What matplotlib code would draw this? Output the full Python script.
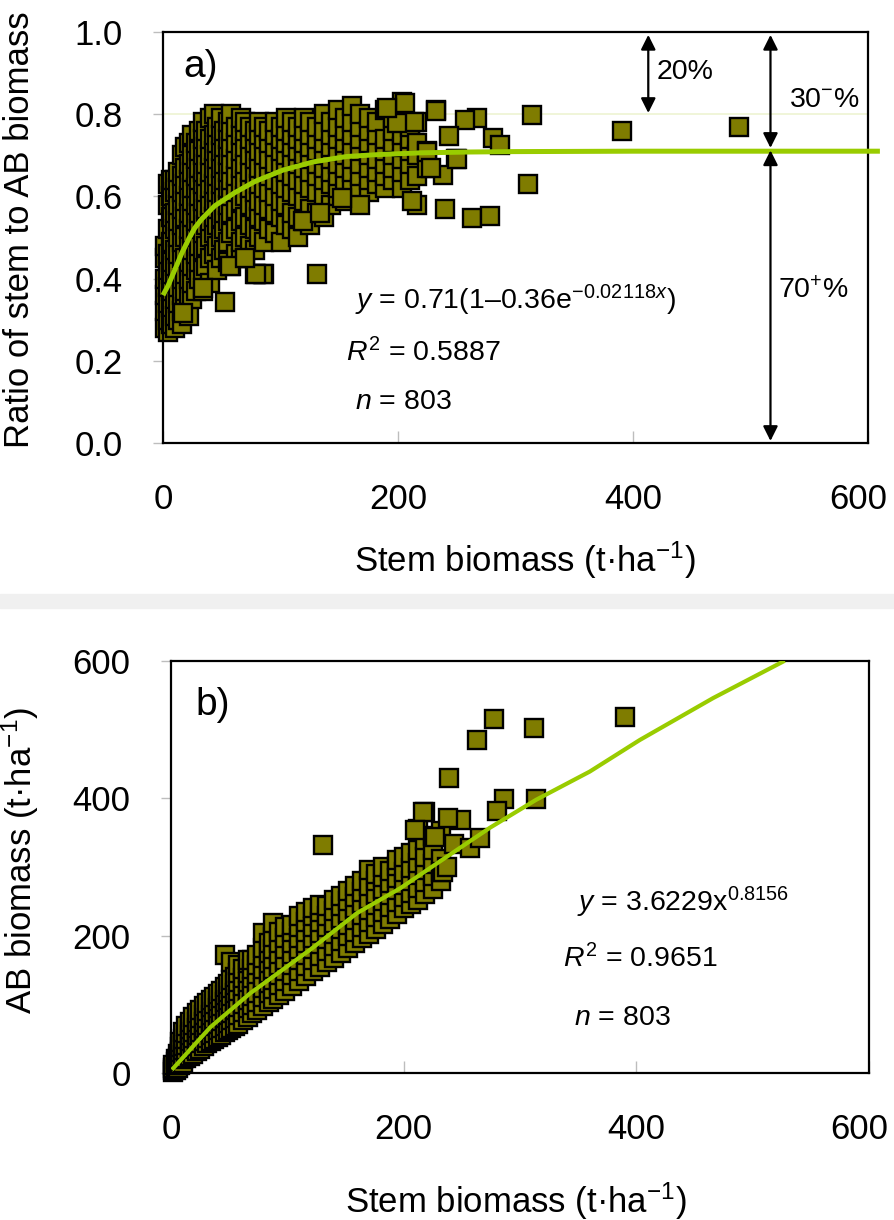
import matplotlib
matplotlib.use('Agg')
import matplotlib.pyplot as plt
from matplotlib.patches import Rectangle
from matplotlib.transforms import ScaledTranslation

plt.rcParams['font.family'] = ['Liberation Sans', 'DejaVu Sans']
plt.rcParams['mathtext.fontset'] = 'custom'
plt.rcParams['mathtext.rm'] = 'Liberation Sans'
plt.rcParams['mathtext.it'] = 'Liberation Sans:italic'
plt.rcParams['mathtext.bf'] = 'Liberation Sans:bold'

# ---- panel a: ratio of stem to AB biomass vs stem biomass (read per column) ----
stem_cols_a = [2, 4, 7, 10, 13, 16, 19, 22, 25, 28, 31, 34, 37, 40, 43, 46, 49, 52,
               55, 58, 62, 66, 70, 74, 78, 82, 86, 90, 95, 100, 105, 110, 115, 120,
               125, 131, 137, 143, 149, 155, 161, 168, 175, 182, 189, 196, 203, 210,
               216, 225, 232]
ratio_cols_a = [
    [0.28, 0.32, 0.36, 0.40, 0.45, 0.48],
    [0.27, 0.30, 0.34, 0.38, 0.42, 0.46, 0.52, 0.58, 0.63],
    [0.29, 0.33, 0.37, 0.41, 0.44, 0.49, 0.55, 0.60, 0.64],
    [0.28, 0.31, 0.35, 0.39, 0.43, 0.47, 0.52, 0.56, 0.61, 0.64],
    [0.30, 0.34, 0.38, 0.42, 0.46, 0.50, 0.54, 0.58, 0.62, 0.66],
    [0.29, 0.32, 0.36, 0.40, 0.45, 0.49, 0.53, 0.57, 0.61, 0.65, 0.70],
    [0.33, 0.37, 0.41, 0.45, 0.50, 0.55, 0.59, 0.63, 0.67, 0.72],
    [0.31, 0.36, 0.40, 0.44, 0.48, 0.52, 0.56, 0.60, 0.64, 0.68, 0.73],
    [0.35, 0.39, 0.43, 0.47, 0.51, 0.55, 0.59, 0.62, 0.66, 0.70, 0.75],
    [0.37, 0.42, 0.46, 0.50, 0.54, 0.58, 0.62, 0.65, 0.69, 0.73],
    [0.40, 0.44, 0.48, 0.52, 0.56, 0.60, 0.64, 0.67, 0.71, 0.76],
    [0.37, 0.42, 0.47, 0.51, 0.55, 0.59, 0.63, 0.66, 0.70, 0.74, 0.78],
    [0.43, 0.48, 0.53, 0.57, 0.61, 0.65, 0.68, 0.72, 0.76],
    [0.39, 0.45, 0.50, 0.54, 0.58, 0.62, 0.66, 0.70, 0.74, 0.79],
    [0.46, 0.51, 0.55, 0.59, 0.63, 0.67, 0.71, 0.75, 0.80],
    [0.42, 0.48, 0.53, 0.57, 0.61, 0.65, 0.69, 0.73, 0.77],
    [0.45, 0.50, 0.55, 0.59, 0.63, 0.67, 0.71, 0.75, 0.79],
    [0.47, 0.52, 0.56, 0.60, 0.64, 0.68, 0.72, 0.76],
    [0.44, 0.49, 0.54, 0.58, 0.62, 0.66, 0.70, 0.74, 0.78],
    [0.43, 0.51, 0.56, 0.60, 0.64, 0.68, 0.72, 0.76, 0.80],
    [0.46, 0.52, 0.57, 0.61, 0.65, 0.69, 0.73, 0.77],
    [0.45, 0.49, 0.54, 0.59, 0.63, 0.67, 0.71, 0.75, 0.79],
    [0.45, 0.50, 0.55, 0.60, 0.64, 0.68, 0.72, 0.76, 0.78],
    [0.48, 0.53, 0.58, 0.62, 0.66, 0.70, 0.74, 0.77],
    [0.41, 0.47, 0.52, 0.57, 0.61, 0.65, 0.69, 0.73, 0.76],
    [0.50, 0.55, 0.59, 0.63, 0.67, 0.71, 0.75, 0.78],
    [0.41, 0.49, 0.54, 0.58, 0.62, 0.66, 0.70, 0.74, 0.77],
    [0.52, 0.57, 0.61, 0.65, 0.69, 0.73, 0.76],
    [0.51, 0.56, 0.60, 0.64, 0.68, 0.72, 0.75, 0.78],
    [0.49, 0.55, 0.59, 0.63, 0.67, 0.71, 0.74, 0.77],
    [0.53, 0.58, 0.62, 0.66, 0.70, 0.73, 0.76, 0.79],
    [0.52, 0.56, 0.61, 0.65, 0.69, 0.72, 0.75, 0.78],
    [0.50, 0.55, 0.60, 0.64, 0.68, 0.71, 0.74, 0.77],
    [0.54, 0.59, 0.63, 0.67, 0.70, 0.73, 0.76, 0.79],
    [0.53, 0.57, 0.62, 0.66, 0.69, 0.72, 0.75, 0.78],
    [0.56, 0.61, 0.65, 0.68, 0.71, 0.74, 0.77],
    [0.55, 0.60, 0.64, 0.67, 0.70, 0.73, 0.76, 0.80],
    [0.58, 0.63, 0.66, 0.69, 0.72, 0.75, 0.78],
    [0.60, 0.62, 0.65, 0.68, 0.71, 0.74, 0.77, 0.81],
    [0.59, 0.64, 0.67, 0.70, 0.73, 0.76, 0.79],
    [0.63, 0.66, 0.69, 0.72, 0.75, 0.78, 0.82],
    [0.62, 0.65, 0.68, 0.71, 0.74, 0.77, 0.80],
    [0.61, 0.64, 0.67, 0.70, 0.73, 0.76, 0.79],
    [0.63, 0.66, 0.69, 0.72, 0.75, 0.78],
    [0.62, 0.65, 0.68, 0.71, 0.74, 0.81],
    [0.64, 0.67, 0.70, 0.73, 0.76, 0.79],
    [0.62, 0.66, 0.69, 0.72, 0.75, 0.78, 0.83],
    [0.64, 0.68, 0.71, 0.74, 0.77],
    [0.65, 0.70, 0.73, 0.78],
    [0.67, 0.71],
    [0.81],
]
# scattered points read one by one
extra_stem_a = [391, 490, 314, 311, 267, 257, 243, 281, 287, 249, 238, 240, 263, 278,
                232, 214, 225, 250, 228, 216, 131, 168, 152, 212, 206, 199, 191, 119,
                134, 53, 85, 79, 57, 70, 34, 17]
extra_ratio_a = [0.76, 0.77, 0.797, 0.63, 0.79, 0.786, 0.747, 0.742, 0.725, 0.69, 0.652,
                 0.57, 0.547, 0.552, 0.808, 0.78, 0.708, 0.69, 0.67, 0.58, 0.41, 0.58,
                 0.596, 0.59, 0.827, 0.778, 0.815, 0.54, 0.56, 0.343, 0.41, 0.41, 0.43,
                 0.45, 0.377, 0.316]
# fitted curve y = 0.71(1-0.36e^-0.02118x), as drawn
curve_stem_a = [1, 4.5, 10, 16, 22, 27, 33, 44, 61, 78, 102, 128, 156, 185, 219, 260,
                300, 400, 500, 608]
curve_ratio_a = [0.365, 0.384, 0.421, 0.462, 0.497, 0.523, 0.545, 0.577, 0.609, 0.636,
                 0.664, 0.684, 0.697, 0.702, 0.706, 0.708, 0.709, 0.71, 0.71, 0.71]

# ---- panel b: AB biomass vs stem biomass ----
stem_cols_b = [2, 4, 6, 8, 10, 13, 16, 19, 22, 25, 28, 31, 34, 37, 40, 43, 46, 49, 52,
               55, 58, 62, 66, 70, 74, 79, 84, 88, 93, 98, 104, 110, 116, 122, 128, 134,
               140, 146, 152, 158, 164, 170, 176, 182, 188, 194, 200, 206, 212, 218,
               225, 232]
ab_cols_b = [
    [2, 5, 8, 12],
    [4, 8, 12, 16, 20],
    [8, 12, 17, 22, 28],
    [12, 17, 23, 30, 38, 45],
    [15, 20, 26, 33, 40, 50, 60],
    [22, 28, 34, 41, 49, 58, 68],
    [25, 31, 38, 46, 55, 64, 74],
    [28, 35, 43, 51, 60, 70, 82],
    [32, 39, 47, 56, 65, 75, 87],
    [35, 43, 51, 60, 70, 80, 92],
    [39, 47, 56, 65, 75, 85, 97],
    [43, 51, 60, 70, 80, 91, 102],
    [46, 55, 64, 74, 85, 96, 106],
    [49, 58, 68, 78, 89, 100, 110],
    [53, 62, 72, 83, 94, 105, 115],
    [56, 66, 76, 87, 98, 109, 120],
    [59, 69, 80, 91, 103, 114, 125, 172],
    [63, 73, 84, 95, 107, 118, 130],
    [66, 77, 88, 100, 112, 124, 136, 162],
    [69, 80, 92, 104, 116, 128, 140],
    [72, 84, 96, 108, 120, 132, 145, 158],
    [77, 89, 101, 113, 126, 139, 152],
    [82, 94, 107, 120, 133, 146, 160, 164],
    [87, 99, 112, 125, 138, 151, 165],
    [92, 104, 117, 130, 144, 158, 172],
    [97, 110, 124, 138, 152, 167, 182, 204],
    [103, 117, 131, 145, 160, 175, 190],
    [108, 122, 136, 151, 166, 181, 198, 218],
    [114, 128, 143, 158, 173, 189, 205],
    [120, 134, 149, 165, 181, 197, 212],
    [127, 142, 157, 173, 189, 205, 215],
    [134, 149, 165, 181, 197, 213, 228],
    [141, 156, 172, 189, 205, 220, 235],
    [148, 164, 180, 197, 213, 228, 240],
    [155, 171, 188, 204, 220, 235, 245],
    [162, 178, 195, 212, 228, 243],
    [168, 185, 202, 219, 236, 252],
    [175, 192, 209, 226, 243, 258],
    [182, 199, 216, 233, 250, 265],
    [189, 206, 223, 240, 257, 272],
    [196, 213, 230, 247, 264, 280],
    [203, 220, 237, 254, 272, 296],
    [210, 227, 244, 261, 279, 290],
    [217, 234, 251, 268, 286, 300],
    [225, 242, 259, 277, 294],
    [232, 249, 266, 284, 302, 310],
    [240, 256, 274, 292, 315],
    [246, 262, 280, 298, 320],
    [252, 270, 288, 306, 325, 355],
    [260, 278, 296, 314, 340, 380],
    [268, 287, 305, 325, 345],
    [280, 293, 312, 352],
]
extra_stem_b = [131, 390, 278, 263, 312, 239, 286, 280, 314, 249, 238, 243, 257, 266,
                234, 217, 210, 227, 237]
extra_ab_b = [332, 518, 515, 485, 502, 429, 399, 382, 399, 368, 372, 334, 327, 342,
              293, 380, 354, 344, 300]
# fitted curve y = 3.6229x^0.8156, as drawn
curve_stem_b = [2, 34, 68, 120, 160, 197, 231, 274, 314, 360, 403, 466, 526]
curve_ab_b = [7, 67, 116, 180, 233, 269, 308, 357, 398, 439, 485, 546, 599]

stem_a = [x for x, ys in zip(stem_cols_a, ratio_cols_a) for _ in ys] + extra_stem_a
ratio_a = [y for ys in ratio_cols_a for y in ys] + extra_ratio_a
stem_b = [x for x, ys in zip(stem_cols_b, ab_cols_b) for _ in ys] + extra_stem_b
ab_b = [y for ys in ab_cols_b for y in ys] + extra_ab_b

olive = '#7f7c00'
green = '#99cc00'
tick_grey = '#bdbdbd'

fig = plt.figure(figsize=(8.94, 12.2), dpi=100)
# light separator band between the panels
fig.patches.append(Rectangle((0, 1 - 608 / 1220), 1, 14 / 1220, transform=fig.transFigure,
                             color='#f0f0f0', zorder=0))

ax1 = fig.add_axes([163 / 894, 1 - 443 / 1220, 705 / 894, 411 / 1220])
ax2 = fig.add_axes([171 / 894, 1 - 1073 / 1220, 698 / 894, 412 / 1220])


def style(ax):
    for s in ax.spines.values():
        s.set_linewidth(1.6)
        s.set_color('black')
    ax.tick_params(axis='y', direction='out', length=7, width=1, color=tick_grey,
                   pad=22, labelsize=25)
    ax.tick_params(axis='x', direction='in', length=8.5, width=1, color=tick_grey,
                   pad=29, labelsize=25)


def nudge_last_xlabel(ax):
    # keep the right-most "600" inside the picture
    lab = ax.get_xticklabels()[-1]
    lab.set_transform(lab.get_transform() + ScaledTranslation(-7 / 72, 0, fig.dpi_scale_trans))


# panel a
ax1.axhline(0.8, color='#eef3d2', lw=1.2, zorder=1)
ax1.plot(stem_a, ratio_a, ls='none', marker='s', ms=12.5, mfc=olive, mec='black',
         mew=1.7, clip_on=False, zorder=2)
ax1.plot(curve_stem_a, curve_ratio_a, color=green, lw=3.6, clip_on=False, zorder=3,
         solid_joinstyle='round')
ax1.set_xlim(0, 600)
ax1.set_ylim(0, 1.0)
ax1.set_xticks([0, 200, 400, 600])
ax1.set_yticks([0, 0.2, 0.4, 0.6, 0.8, 1.0])
ax1.set_yticklabels(['0.0', '0.2', '0.4', '0.6', '0.8', '1.0'])
style(ax1)
nudge_last_xlabel(ax1)
ax1.set_xlabel('Stem biomass (t·ha$^{-1}$)', fontsize=25)
ax1.xaxis.set_label_coords(0.513, -0.236)
ax1.set_ylabel('Ratio of stem to AB biomass', fontsize=25, va='center')
ax1.yaxis.set_label_coords(-0.203, 0.52)
ax1.text(17, 0.915, 'a)', fontsize=28, va='center', ha='left')

arrow = dict(arrowstyle='<|-|>', color='black', lw=1.6, mutation_scale=22,
             shrinkA=0, shrinkB=0)
ax1.annotate('', xy=(413, 0.803), xytext=(413, 0.993), arrowprops=arrow)
ax1.annotate('', xy=(517, 0.718), xytext=(517, 0.993), arrowprops=arrow)
ax1.annotate('', xy=(517, 0.005), xytext=(517, 0.712), arrowprops=arrow)
ax1.text(420, 0.903, '20%', fontsize=20.5, va='center', ha='left')
ax1.text(533, 0.835, r'$\mathrm{30}^{-}$%', fontsize=20.5, va='center', ha='left')
ax1.text(523, 0.372, r'$\mathrm{70}^{+}$%', fontsize=20.5, va='center', ha='left')

ax1.text(163, 0.348, r'$\mathit{y}$ = 0.71(1–0.36e$^{-0.02118\mathit{x}}$)',
         fontsize=20.5, va='center', ha='left')
ax1.text(156, 0.219, r'$\mathit{R}^{2}$ = 0.5887', fontsize=20.5, va='center', ha='left')
ax1.text(163, 0.10, r'$\mathit{n}$ = 803', fontsize=20.5, va='center', ha='left')

# panel b
ax2.plot(stem_b, ab_b, ls='none', marker='s', ms=12.5, mfc=olive, mec='black',
         mew=1.7, clip_on=False, zorder=2)
ax2.plot(curve_stem_b, curve_ab_b, color=green, lw=3.0, zorder=3,
         solid_joinstyle='round')
ax2.set_xlim(0, 600)
ax2.set_ylim(0, 600)
ax2.set_xticks([0, 200, 400, 600])
ax2.set_yticks([0, 200, 400, 600])
style(ax2)
nudge_last_xlabel(ax2)
ax2.set_xlabel('Stem biomass (t·ha$^{-1}$)', fontsize=25)
ax2.xaxis.set_label_coords(0.494, -0.26)
ax2.set_ylabel('AB biomass (t·ha$^{-1}$)', fontsize=25, va='center')
ax2.yaxis.set_label_coords(-0.216, 0.515)
ax2.text(21, 536, 'b)', fontsize=28, va='center', ha='left')

ax2.text(349, 248, r'$\mathit{y}$ = 3.6229x$^{0.8156}$', fontsize=20.5, va='center',
         ha='left')
ax2.text(337, 167, r'$\mathit{R}^{2}$ = 0.9651', fontsize=20.5, va='center', ha='left')
ax2.text(346, 80, r'$\mathit{n}$ = 803', fontsize=20.5, va='center', ha='left')

fig.savefig('out.png', dpi=100)
